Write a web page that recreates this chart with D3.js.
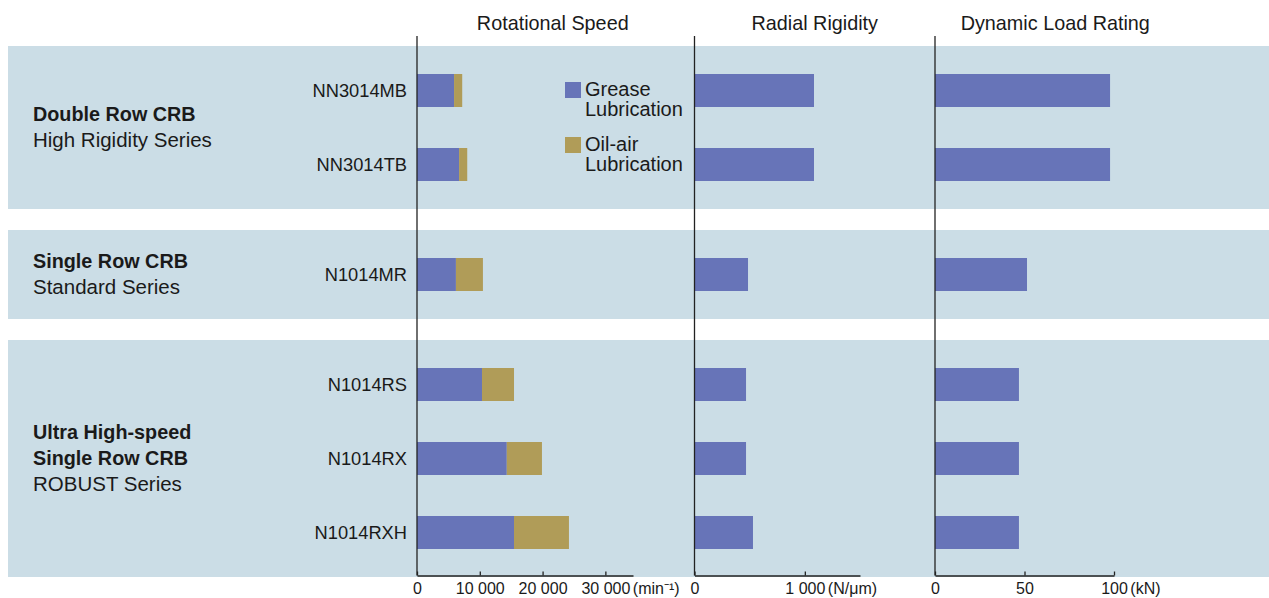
<!DOCTYPE html>
<html>
<head>
<meta charset="utf-8">
<script src="https://cdn.jsdelivr.net/npm/d3@7"></script>
<style>
  html, body { margin: 0; padding: 0; background: #ffffff; }
  svg { display: block; }
  text { font-family: "Liberation Sans", Arial, Helvetica, sans-serif; fill: #1a1a1a; }
</style>
</head>
<body>
<svg id="chart" width="1269" height="598"></svg>
<script>
// ---------------- data ----------------
const products = ["NN3014MB", "NN3014TB", "N1014MR", "N1014RS", "N1014RX", "N1014RXH"];
const productGroup = [0, 0, 1, 2, 2, 2];
const groupTitleBold = [["Double Row CRB"], ["Single Row CRB"], ["Ultra High-speed", "Single Row CRB"]];
const groupTitleRegular = [["High Rigidity Series"], ["Standard Series"], ["ROBUST Series"]];

const greaseSpeed = [5900, 6700, 6200, 10350, 14300, 15450];     // min^-1
const oilAirSpeed = [7200, 8000, 10500, 15450, 19900, 24200];     // min^-1
const radialRigidity = [1083, 1083, 485, 467, 467, 530];          // N/um
const dynamicLoad = [97.8, 97.8, 51.4, 46.9, 46.9, 46.9];         // kN

const panelTitles = ["Rotational Speed", "Radial Rigidity", "Dynamic Load Rating"];
const speedTicks = [0, 10000, 20000, 30000];
const rigidityTicks = [0, 1000];
const loadTicks = [0, 50, 100];
const units = ["(min\u207B\u00B9)", "(N/\u03BCm)", "(kN)"];
const legendLabels = [["Grease", "Lubrication"], ["Oil-air", "Lubrication"]];

// ---------------- layout ----------------
const colGrease = "#6774b8";
const colOil = "#b09c58";
const colBand = "#cbdde6";
const colAxis = "#222222";

const svg = d3.select("#chart");
const bandLeft = 8, bandRight = 1269;
const top0 = 46, rowStep = 74, groupPad = 7.5, groupGap = 21;
const axisY = 575.5, axisTop = 36;

// group extents
const nGroups = groupTitleBold.length;
const groups = [];
let yCur = top0;
for (let g = 0; g < nGroups; g++) {
  const members = products.filter((p, i) => productGroup[i] === g);
  const h = members.length * rowStep + 2 * groupPad;
  const yScale = d3.scaleBand().domain(members)
    .range([yCur + groupPad, yCur + h - groupPad])
    .paddingInner(41 / 74).paddingOuter(41 / 148);
  groups.push({ y0: yCur, y1: yCur + h, members, yScale });
  yCur += h + groupGap;
}
const yOf = p => groups[productGroup[products.indexOf(p)]].yScale(p);
const bw = groups[0].yScale.bandwidth();

// background bands
svg.append("g").selectAll("rect").data(groups).join("rect")
  .attr("x", bandLeft).attr("width", bandRight - bandLeft)
  .attr("y", d => d.y0).attr("height", d => d.y1 - d.y0)
  .attr("fill", colBand);

// scales
const xSpeed = d3.scaleLinear().domain([0, 34400]).range([417, 633]);
const xRig = d3.scaleLinear().domain([0, 1500]).range([694.5, 860]);
const xLoad = d3.scaleLinear().domain([0, 100]).range([935, 1114]);

const rows = products.map((p, i) => ({
  p, grease: greaseSpeed[i], oil: oilAirSpeed[i], rig: radialRigidity[i], load: dynamicLoad[i]
}));

// bars
svg.append("g").selectAll("rect").data(rows).join("rect")
  .attr("x", d => xSpeed(0)).attr("y", d => yOf(d.p))
  .attr("width", d => xSpeed(d.grease) - xSpeed(0)).attr("height", bw)
  .attr("fill", colGrease);
svg.append("g").selectAll("rect").data(rows).join("rect")
  .attr("x", d => xSpeed(d.grease)).attr("y", d => yOf(d.p))
  .attr("width", d => xSpeed(d.oil) - xSpeed(d.grease)).attr("height", bw)
  .attr("fill", colOil);
svg.append("g").selectAll("rect").data(rows).join("rect")
  .attr("x", d => xRig(0)).attr("y", d => yOf(d.p))
  .attr("width", d => xRig(d.rig) - xRig(0)).attr("height", bw)
  .attr("fill", colGrease);
svg.append("g").selectAll("rect").data(rows).join("rect")
  .attr("x", d => xLoad(0)).attr("y", d => yOf(d.p))
  .attr("width", d => xLoad(d.load) - xLoad(0)).attr("height", bw)
  .attr("fill", colGrease);

// vertical axis lines
[xSpeed, xRig, xLoad].forEach(s => {
  svg.append("line").attr("x1", s(0)).attr("x2", s(0))
    .attr("y1", axisTop).attr("y2", axisY)
    .attr("stroke", colAxis).attr("stroke-width", 1.3);
});

// bottom axes
const loc = d3.formatLocale({ decimal: ".", thousands: " ", grouping: [3], currency: ["", ""] });
const fmt = loc.format(",d");
const axesDef = [[xSpeed, speedTicks], [xRig, rigidityTicks], [xLoad, loadTicks]];
axesDef.forEach(([s, ticks], k) => {
  const g = svg.append("g").attr("transform", `translate(0,${axisY})`)
    .call(d3.axisBottom(s).tickValues(ticks).tickFormat(fmt).tickSizeInner(-4).tickSizeOuter(0));
  g.select(".domain").attr("stroke", colAxis).attr("stroke-width", 1.3);
  g.selectAll(".tick line").attr("stroke", colAxis).attr("stroke-width", 1.3);
  const labels = g.selectAll(".tick text").attr("y", 7).attr("dy", "0.71em")
    .style("font-family", '"Liberation Sans", Arial, sans-serif')
    .style("font-size", "16px").attr("fill", "#1a1a1a");
  const lastNode = labels.nodes()[labels.size() - 1];
  const lastW = lastNode.getComputedTextLength();
  const lastX = s(ticks[ticks.length - 1]);
  g.append("text").attr("x", lastX + lastW / 2 + 3).attr("y", 7).attr("dy", "0.71em")
    .attr("text-anchor", "start").style("font-size", "16px").attr("fill", "#1a1a1a")
    .text(units[k]);
});

// panel titles
const titleX = [(xSpeed(0) + xRig(0)) / 2 - 3, (xRig(0) + xLoad(0)) / 2, xLoad(0) + (xLoad(0) - xRig(0)) / 2];
svg.append("g").selectAll("text").data(panelTitles).join("text")
  .attr("x", (d, i) => titleX[i]).attr("y", 30)
  .attr("text-anchor", "middle").style("font-size", "19.8px")
  .text(d => d);

// product labels
svg.append("g").selectAll("text").data(products).join("text")
  .attr("x", 407).attr("y", d => yOf(d) + bw / 2 + 6.5)
  .attr("text-anchor", "end").style("font-size", "18.3px")
  .text(d => d);

// group labels
groups.forEach((g, gi) => {
  const lines = groupTitleBold[gi].map(t => ({ t, b: true }))
    .concat(groupTitleRegular[gi].map(t => ({ t, b: false })));
  const cy = (g.y0 + g.y1) / 2;
  const lh = 26;
  const first = cy - (lines.length - 1) * lh / 2 + 6.5;
  svg.append("g").selectAll("text").data(lines).join("text")
    .attr("x", 33).attr("y", (d, i) => first + i * lh)
    .style("font-size", d => d.b ? "19.8px" : "20.5px").style("font-weight", d => d.b ? "bold" : "normal")
    .text(d => d.t);
});

// legend
const legY = [82, 137];
const legCols = [colGrease, colOil];
legendLabels.forEach((lab, i) => {
  svg.append("rect").attr("x", 565).attr("y", legY[i]).attr("width", 16).attr("height", 16)
    .attr("fill", legCols[i]);
  svg.append("text").attr("x", 585).attr("y", legY[i] + 14).style("font-size", "20px")
    .selectAll("tspan").data(lab).join("tspan")
    .attr("x", 585).attr("dy", (d, j) => j === 0 ? 0 : 19.5).text(d => d);
});
</script>
</body>
</html>
